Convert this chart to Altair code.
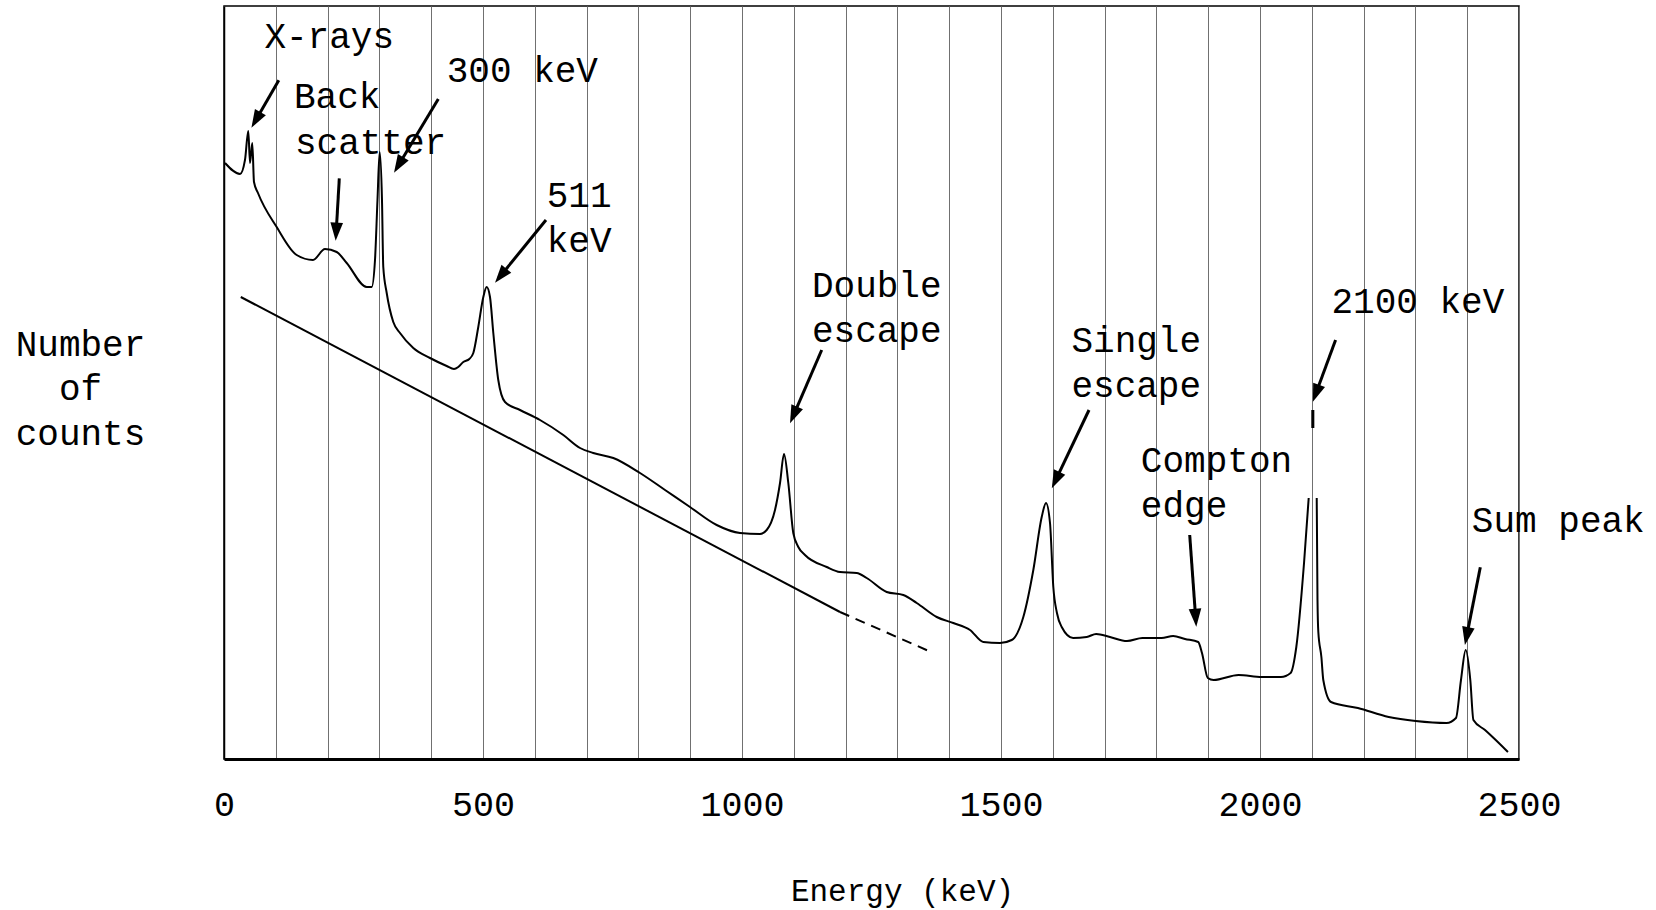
import math
import altair as alt
import pandas as pd

# ---------------- data ----------------
# measured spectrum, main part (energy in keV, counts in arbitrary units)
seg_a_kev = [2, 31, 40.5, 46.9, 50.2, 54.6, 57.9, 65.6, 101.7, 140.3, 171.8, 195, 217.6, 236.9,
             275.5, 285.1, 291.5, 296.3, 300.5, 305, 307.5, 314.1, 326.8, 339.8, 365.4, 397.7,
             429.9, 444, 452.3, 462, 473.6, 481.3, 490.9, 500.6, 507.1, 513.5, 519.9, 529.5,
             542.5, 571.4, 610, 655, 687.3, 712.9, 751.5, 803.1, 851.4, 899.6, 951.1, 996.1,
             1034.7, 1047.7, 1063.7, 1073.4, 1081.1, 1089.4, 1099, 1108.7, 1121.6, 1163.5,
             1189.2, 1221.4, 1240.7, 1279.3, 1311.4, 1337.3, 1375.9, 1407.9, 1440.2, 1465.8,
             1498.1, 1520.7, 1543.1, 1562.4, 1578.6, 1586.9, 1594.6, 1601, 1608, 1617.2,
             1639.2, 1665.5, 1683.8, 1710.4, 1743.2, 1773, 1810, 1832.4, 1855.2, 1880.7, 1888,
             1899.2, 1910.4, 1958.7, 2003.3, 2040.5, 2059.1, 2070.1, 2085, 2094]
seg_a_counts = [596, 585, 599, 628, 596, 616, 577, 566, 532, 504, 499, 510, 507, 496,
                472, 472, 499, 559, 607, 559, 492, 466, 437, 426, 411, 401,
                393, 390, 392, 397, 400, 406, 432, 462, 472, 462, 426, 379,
                357, 349, 339, 324, 311, 306, 301, 286, 269, 252, 234, 226,
                225, 229, 249, 276, 305, 276, 226, 212, 204, 192,
                187, 186, 181, 167, 164, 156, 142, 136, 129, 117,
                116, 119, 142, 189, 242, 256, 236, 172, 146, 132,
                121, 122, 125, 122, 118, 121, 121, 123, 120, 117, 106,
                81, 79, 84, 82, 82, 86, 112, 196, 261]

# spectrum after the (off-scale) 2100 keV peak
seg_b_kev = [2109.5, 2111, 2112.6, 2118.5, 2122.2, 2137.1, 2189, 2248.5, 2300.6, 2360,
             2378.3, 2388, 2397.1, 2406, 2412, 2434.4, 2449, 2478.7]
seg_b_counts = [261, 159, 127, 102, 79, 57, 51, 42, 38, 36,
                41, 79, 109, 79, 39, 29, 22, 7]

# small fragment of the 2100 keV peak
stub_kev = [2102, 2102]
stub_counts = [349, 331]

# Compton continuum guide line (solid part, dashed extrapolation)
guide_solid_kev = [32.4, 1189.2]
guide_solid_counts = [462, 147]
guide_dash_kev = [1189.2, 1369.3]
guide_dash_counts = [147, 106]

# annotation texts (left edge, baseline)
label_text = ["X-rays", "Back", "scatter", "300 keV", "511", "keV", "Double", "escape",
              "Single", "escape", "Compton", "edge", "2100 keV", "Sum peak"]
label_kev = [78, 135, 137, 430, 623, 623, 1135, 1135, 1636, 1636, 1770, 1770, 2138, 2409]
label_counts = [711, 651, 605, 677, 552, 507, 462, 417, 407, 362, 287, 242, 446, 227]

# arrows (start -> tip)
arrow_from_kev = [105.8, 222.6, 413.7, 621.6, 1153.9, 1669.9, 1864.3, 2145.9, 2425.3]
arrow_from_counts = [678.7, 580.7, 660, 539, 409, 349, 224, 419, 191.7]
arrow_to_kev = [52.9, 215.6, 328.2, 523.2, 1092.7, 1598.1, 1877, 2102.1, 2395.6]
arrow_to_counts = [631.2, 518.3, 586.3, 476.3, 335.7, 270.7, 132.3, 357.3, 114]

tick_values = list(range(0, 2501, 100))

# ---------------- layout ----------------
W, H = 1295, 753
X_MAX, Y_MAX = 2500, 753
px_per_kev = W / X_MAX
px_per_count = H / Y_MAX

# ---------------- tables ----------------
spec = pd.DataFrame({
    "kev": seg_a_kev + seg_b_kev + stub_kev,
    "counts": seg_a_counts + seg_b_counts + stub_counts,
    "seg": ["a"] * len(seg_a_kev) + ["b"] * len(seg_b_kev) + ["c"] * len(stub_kev),
})
spec["order"] = range(len(spec))

solid = pd.DataFrame({"kev": guide_solid_kev, "counts": guide_solid_counts})
dash = pd.DataFrame({"kev": guide_dash_kev, "counts": guide_dash_counts})
labels = pd.DataFrame({"kev": label_kev, "counts": label_counts, "text": label_text})

rows = []
for fk, fc, tk, tc in zip(arrow_from_kev, arrow_from_counts, arrow_to_kev, arrow_to_counts):
    dx = (tk - fk) * px_per_kev
    dy = -(tc - fc) * px_per_count  # screen y goes down
    ang = math.degrees(math.atan2(dx, -dy)) % 360
    L = math.hypot(dx, dy)
    back = 6.0 / L
    ek = tk - (tk - fk) * back
    ec = tc - (tc - fc) * back
    rows.append({"fk": fk, "fc": fc, "ek": ek, "ec": ec, "tk": tk, "tc": tc, "angle": ang})
arrows = pd.DataFrame(rows)

# ---------------- scales / axes ----------------
xs = alt.Scale(domain=[0, X_MAX], nice=False, zero=False)
ys = alt.Scale(domain=[0, Y_MAX], nice=False, zero=False)

x_axis = alt.Axis(
    values=tick_values, format="d",
    labelExpr="datum.value % 500 === 0 ? datum.label : ''",
    ticks=False, grid=True, gridColor="#707070", gridWidth=1,
    domainColor="black", domainWidth=3,
    labelFont="Liberation Mono", labelFontSize=35, labelColor="black",
    labelPadding=28, labelFlush=False, labelOverlap=False,
    title="Energy (keV)", titleFont="Liberation Mono", titleFontSize=31,
    titleFontWeight="normal", titleColor="black",
    titleX=678, titleY=141, titleAlign="center", titleBaseline="alphabetic",
)
y_axis = alt.Axis(
    labels=False, ticks=False, grid=False, domainColor="black", domainWidth=1.5,
    title=["Number", "of", "counts"], titleFont="Liberation Mono", titleFontSize=36,
    titleFontWeight="normal", titleColor="black", titleAngle=0, titleAlign="center",
    titleBaseline="alphabetic", titleX=-144, titleY=349, titleLineHeight=44.5,
)

X = lambda f: alt.X(f, type="quantitative", scale=xs, axis=x_axis)
Y = lambda f: alt.Y(f, type="quantitative", scale=ys, axis=y_axis)

curve = alt.Chart(spec).mark_line(color="black", strokeWidth=2, interpolate="monotone").encode(
    x=X("kev"), y=Y("counts"), detail="seg:N", order="order:Q"
)
stub = alt.Chart(spec[spec.seg == "c"]).mark_line(color="black", strokeWidth=3).encode(
    x=X("kev"), y=Y("counts")
)
guide1 = alt.Chart(solid).mark_line(color="black", strokeWidth=2).encode(x=X("kev"), y=Y("counts"))
guide2 = alt.Chart(dash).mark_line(color="black", strokeWidth=2, strokeDash=[10, 7]).encode(
    x=X("kev"), y=Y("counts")
)
arrow_lines = alt.Chart(arrows).mark_rule(color="black", strokeWidth=3).encode(
    x=X("fk"), y=Y("fc"), x2="ek", y2="ec"
)
arrow_heads = alt.Chart(arrows).mark_point(
    shape="M0,0L-0.7,2L0.7,2Z", filled=True, color="black", opacity=1, size=324, strokeWidth=0
).encode(x=X("tk"), y=Y("tc"), angle=alt.Angle("angle:Q", scale=None))
texts = alt.Chart(labels).mark_text(
    align="left", baseline="alphabetic", font="Liberation Mono", fontSize=36, color="black"
).encode(x=X("kev"), y=Y("counts"), text="text:N")

chart = alt.layer(curve, stub, guide1, guide2, arrow_lines, arrow_heads, texts).properties(
    width=W, height=H, autosize="none",
    padding={"left": 224, "top": 6, "right": 137, "bottom": 151},
    background="white",
).configure_view(stroke="black", strokeWidth=1.5)

chart.save("out.html", embed_options={"renderer": "svg", "actions": False})
